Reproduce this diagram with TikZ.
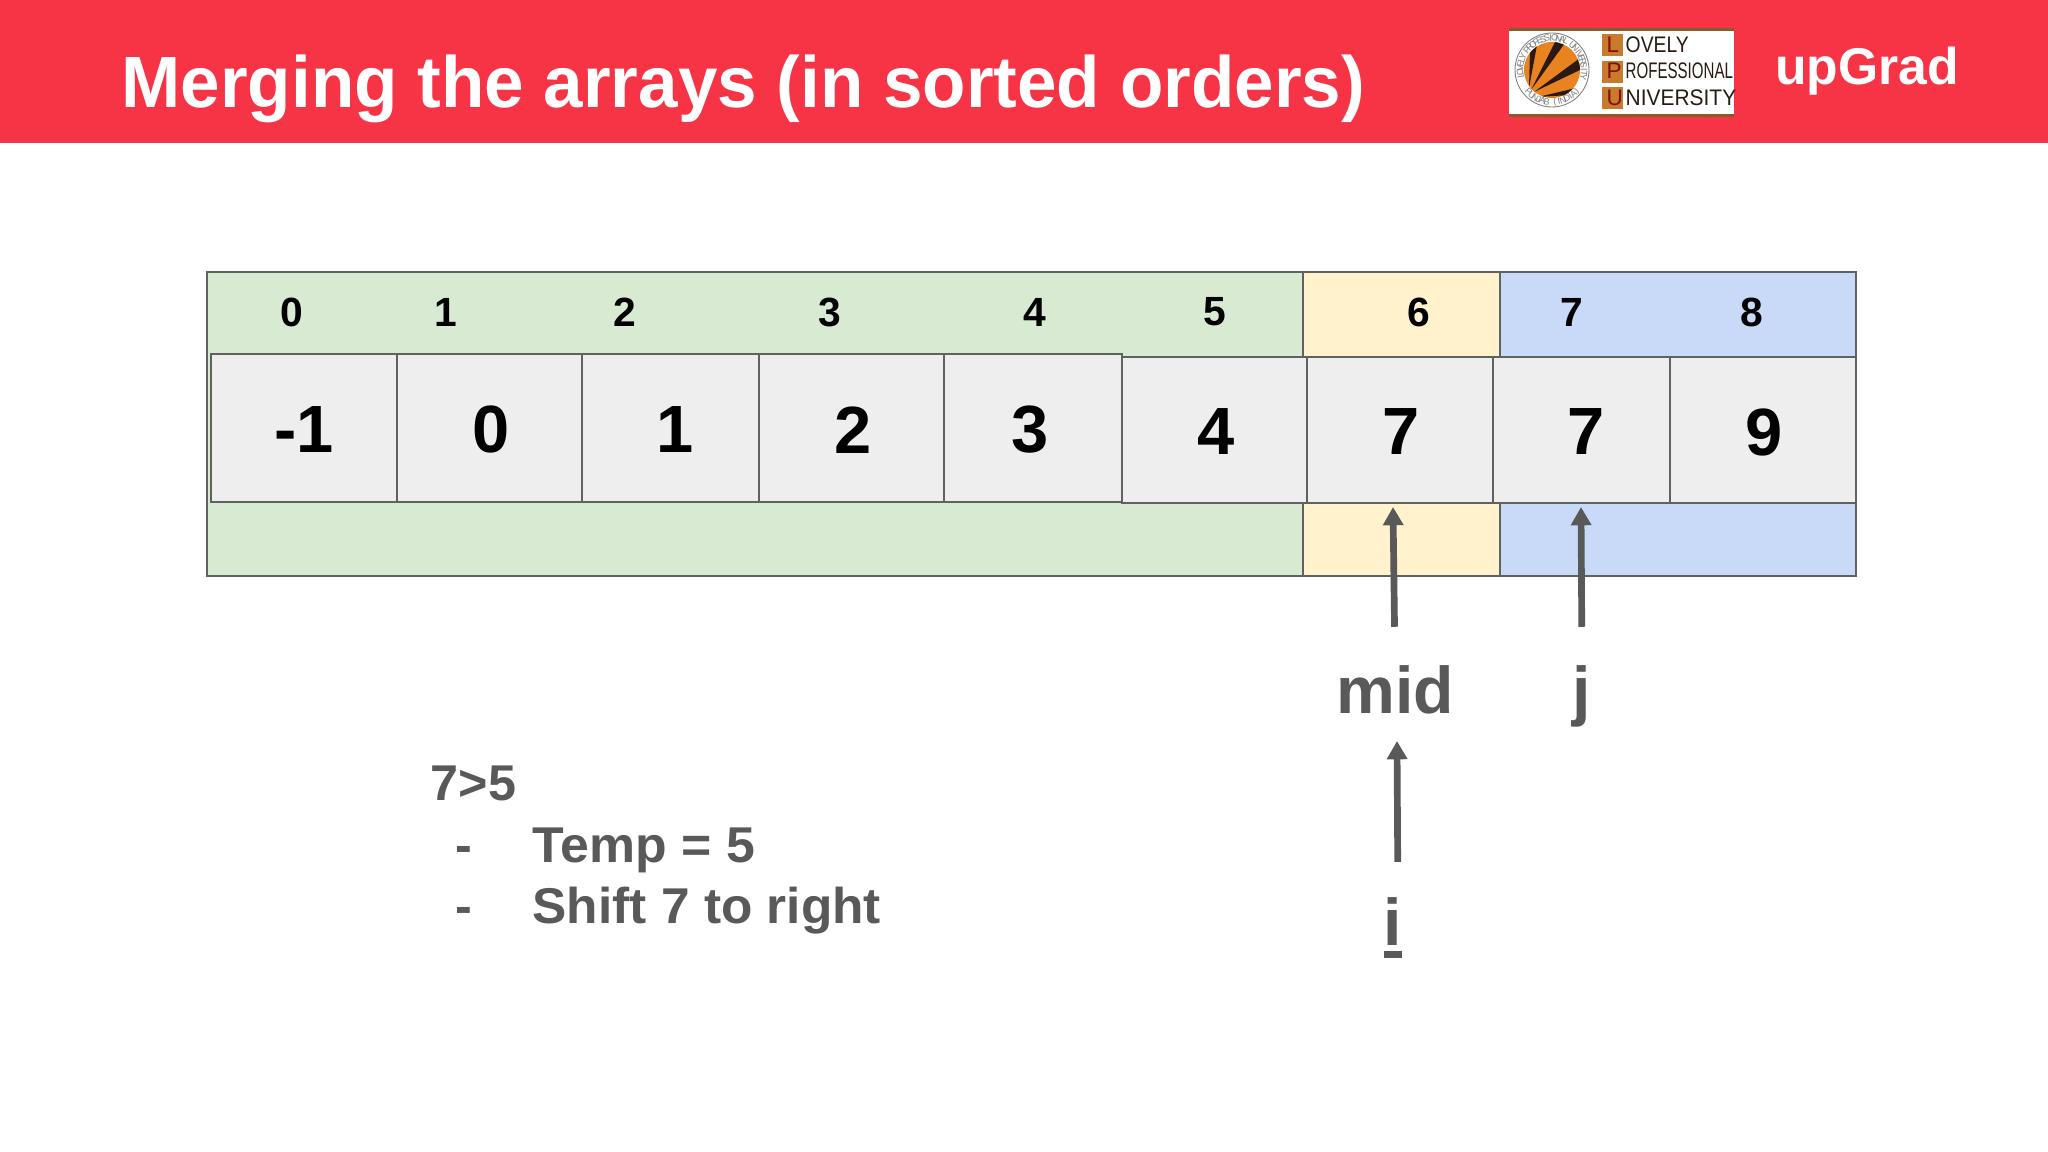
\documentclass[tikz,border=0pt]{standalone}
\usepackage{fontspec}
\setmainfont{Liberation Sans}
\usepackage{xcolor}
\usepackage{graphicx}
\usetikzlibrary{arrows.meta}
\definecolor{headRed}{HTML}{F63446}
\definecolor{edgeGray}{HTML}{5F635F}
\definecolor{textGray}{HTML}{595959}
\definecolor{bandGreen}{HTML}{D9EAD3}
\definecolor{bandYellow}{HTML}{FFF2CC}
\definecolor{bandBlue}{HTML}{C9DAF8}
\definecolor{cellGray}{HTML}{EEEEEE}
\definecolor{lpuOrange}{HTML}{E8831F}
\definecolor{lpuBox}{HTML}{C97A2C}
\definecolor{lpuBrown}{HTML}{8A5A2B}
\definecolor{lpuDark}{HTML}{2A1A12}
\tikzset{
    band/.style={draw=edgeGray, line width=0.55pt},
    arrCell/.style={draw=edgeGray, line width=0.55pt, fill=cellGray, inner sep=0pt},
    valLabel/.style={inner sep=0pt, font=\fontsize{19}{19}\selectfont\bfseries},
    idxLabel/.style={font=\fontsize{11.6}{12}\selectfont\bfseries},
    ptrLabel/.style={textGray, inner sep=0pt, anchor=base, font=\fontsize{18.8}{19}\selectfont\bfseries},
    noteLabel/.style={textGray, inner sep=0pt, anchor=base west, font=\fontsize{14.3}{15}\selectfont\bfseries},
    ptr/.style={draw=textGray, line width=1.9pt, -{Triangle[length=5.2pt, width=5.6pt]}},
    lpuText/.style={inner sep=0pt, anchor=base west, text=lpuDark, font=\fontsize{6.4}{7}\selectfont},
    lpuRing/.style={inner sep=0pt, text=gray, font=\fontsize{2.6}{3}\selectfont}
}

\begin{document}
\begin{tikzpicture}[x=0.01cm, y=-0.01cm]
    \useasboundingbox (0, 0) rectangle (2048, 1152);
    \fill[white] (0, 0) rectangle (2048, 1152);
    \fill[headRed] (0, 0) rectangle (2048, 143);
    \node[white, inner sep=0pt, anchor=base west, font=\fontsize{20.65}{21}\selectfont\bfseries] (title) at (121, 108) {\scalebox{0.978}[1]{Merging the arrays (in sorted orders)}};

    % logo
    \fill[white] (1509, 28) rectangle (1734, 117);
    \fill[lpuBrown] (1509, 28) rectangle (1734, 31);
    \fill[lpuBrown] (1509, 114) rectangle (1734, 117);
    \draw[gray, line width=0.25pt] (1552, 70) circle (37);
    \fill[lpuOrange] (1552, 70) circle (28);
    \begin{scope}
        \clip (1552, 70) circle (28);
        \fill[lpuDark] (1529, 88) -- (1530, 50) -- (1537, 45) -- cycle;
        \fill[lpuDark] (1531, 90) -- (1556, 40) -- (1565, 43) -- cycle;
        \fill[lpuDark] (1534, 92) -- (1580, 58) -- (1582, 69) -- cycle;
        \fill[lpuDark] (1538, 97) -- (1576, 88) -- (1570, 95) -- cycle;
    \end{scope}
    \foreach \c [count=\k, evaluate=\k as \a using 197-7*\k] in {L,O,V,E,L,Y,{},P,R,O,F,E,S,S,I,O,N,A,L,{},U,N,I,V,E,R,S,I,T,Y}
        \node[lpuRing, rotate=\a-90] (ringTop\k) at ({1552+32*cos(\a)}, {70-32*sin(\a)}) {\c};
    \foreach \c [count=\k, evaluate=\k as \a using 216+7.4*\k] in {P,U,N,J,A,B,{},{(},I,N,D,I,A,{)}}
        \node[lpuRing, rotate=\a+90] (ringLow\k) at ({1552+32*cos(\a)}, {70-32*sin(\a)}) {\c};
    \foreach \y in {34, 61, 87}
        \fill[lpuBox] (1602, \y) rectangle (1623, \y+22);
    \node[lpuText, text=lpuDark!60!red] (lpuL) at (1606, 53) {L};
    \node[lpuText, text=lpuDark!60!red] (lpuP) at (1606, 79) {P};
    \node[lpuText, text=lpuDark!60!red] (lpuU) at (1606, 106) {U};
    \node[lpuText] (lpuOvely) at (1625, 53) {\scalebox{0.86}[1]{OVELY}};
    \node[lpuText] (lpuProf) at (1625, 79) {\scalebox{0.67}[1]{ROFESSIONAL}};
    \node[lpuText] (lpuUniv) at (1625, 106) {\scalebox{0.93}[1]{NIVERSITY}};
    \node[white, inner sep=0pt, anchor=base, font=\fontsize{14.7}{15}\selectfont\bfseries] (upgrad) at (1867, 85) {upGrad};

    % coloured bands
    \filldraw[band, fill=bandGreen] (207, 272) rectangle (1303, 576);
    \filldraw[band, fill=bandYellow] (1303, 272) rectangle (1500, 576);
    \filldraw[band, fill=bandBlue] (1500, 272) rectangle (1856, 576);

    \foreach \n/\x in {0/292, 1/446, 2/625, 3/830, 4/1035, 5/1215, 6/1419, 7/1572, 8/1752}
        \node[idxLabel] (idx\n) at (\x, 312) {\n};

    \foreach \n/\x/\w in {0/304/186, 1/489.5/185, 2/670.5/177, 3/851.5/185, 4/1033/178}
        \node[arrCell, minimum width=\w*0.01cm, minimum height=1.47cm] (cell\n) at (\x, 428) {};
    \foreach \n/\x/\w in {5/1214.5/185, 6/1400/186, 7/1581.5/177, 8/1763/186}
        \node[arrCell, minimum width=\w*0.01cm, minimum height=1.46cm] (cell\n) at (\x, 430) {};
    \foreach \n/\x/\y/\v in {0/304/430/-1, 1/491/430/0, 2/675.5/430/1, 3/853/430/2, 4/1030.5/430/3, 5/1216/432/4, 6/1401/432/7, 7/1586.5/432/7, 8/1764/432/9}
        \node[valLabel] (val\n) at (\x, \y) {\v};

    % pointers
    \node[ptrLabel] (lblMid) at (1395, 713) {mid};
    \node[ptrLabel] (lblJ) at (1582, 713) {j};
    \node[ptrLabel] (lblI) at (1393, 945) {i\llap{\rule[-3.7pt]{5.1pt}{1.9pt}}};
    \coordinate (tipMid) at (1393, 507);
    \coordinate (tipJ) at (1581, 507);
    \coordinate (tipI) at (1397, 741);
    \draw[ptr, shorten <=10.7pt] (lblMid.north) -- (tipMid);
    \draw[ptr, shorten <=10.7pt] (lblJ.north) -- (tipJ);
    \draw[ptr, shorten <=9.8pt] ([xshift=1.4pt]lblI.north) -- (tipI);

    % note
    \node[noteLabel] (note) at (430, 800) {7>5};
    \node[noteLabel] (dashA) at (455, 862) {-};
    \node[noteLabel] (noteTemp) at (532, 862) {\scalebox{1.03}[1]{Temp = 5}};
    \node[noteLabel] (dashB) at (455, 923) {-};
    \node[noteLabel] (noteShift) at (532, 923) {\scalebox{1.022}[1]{Shift 7 to right}};
\end{tikzpicture}
\end{document}
